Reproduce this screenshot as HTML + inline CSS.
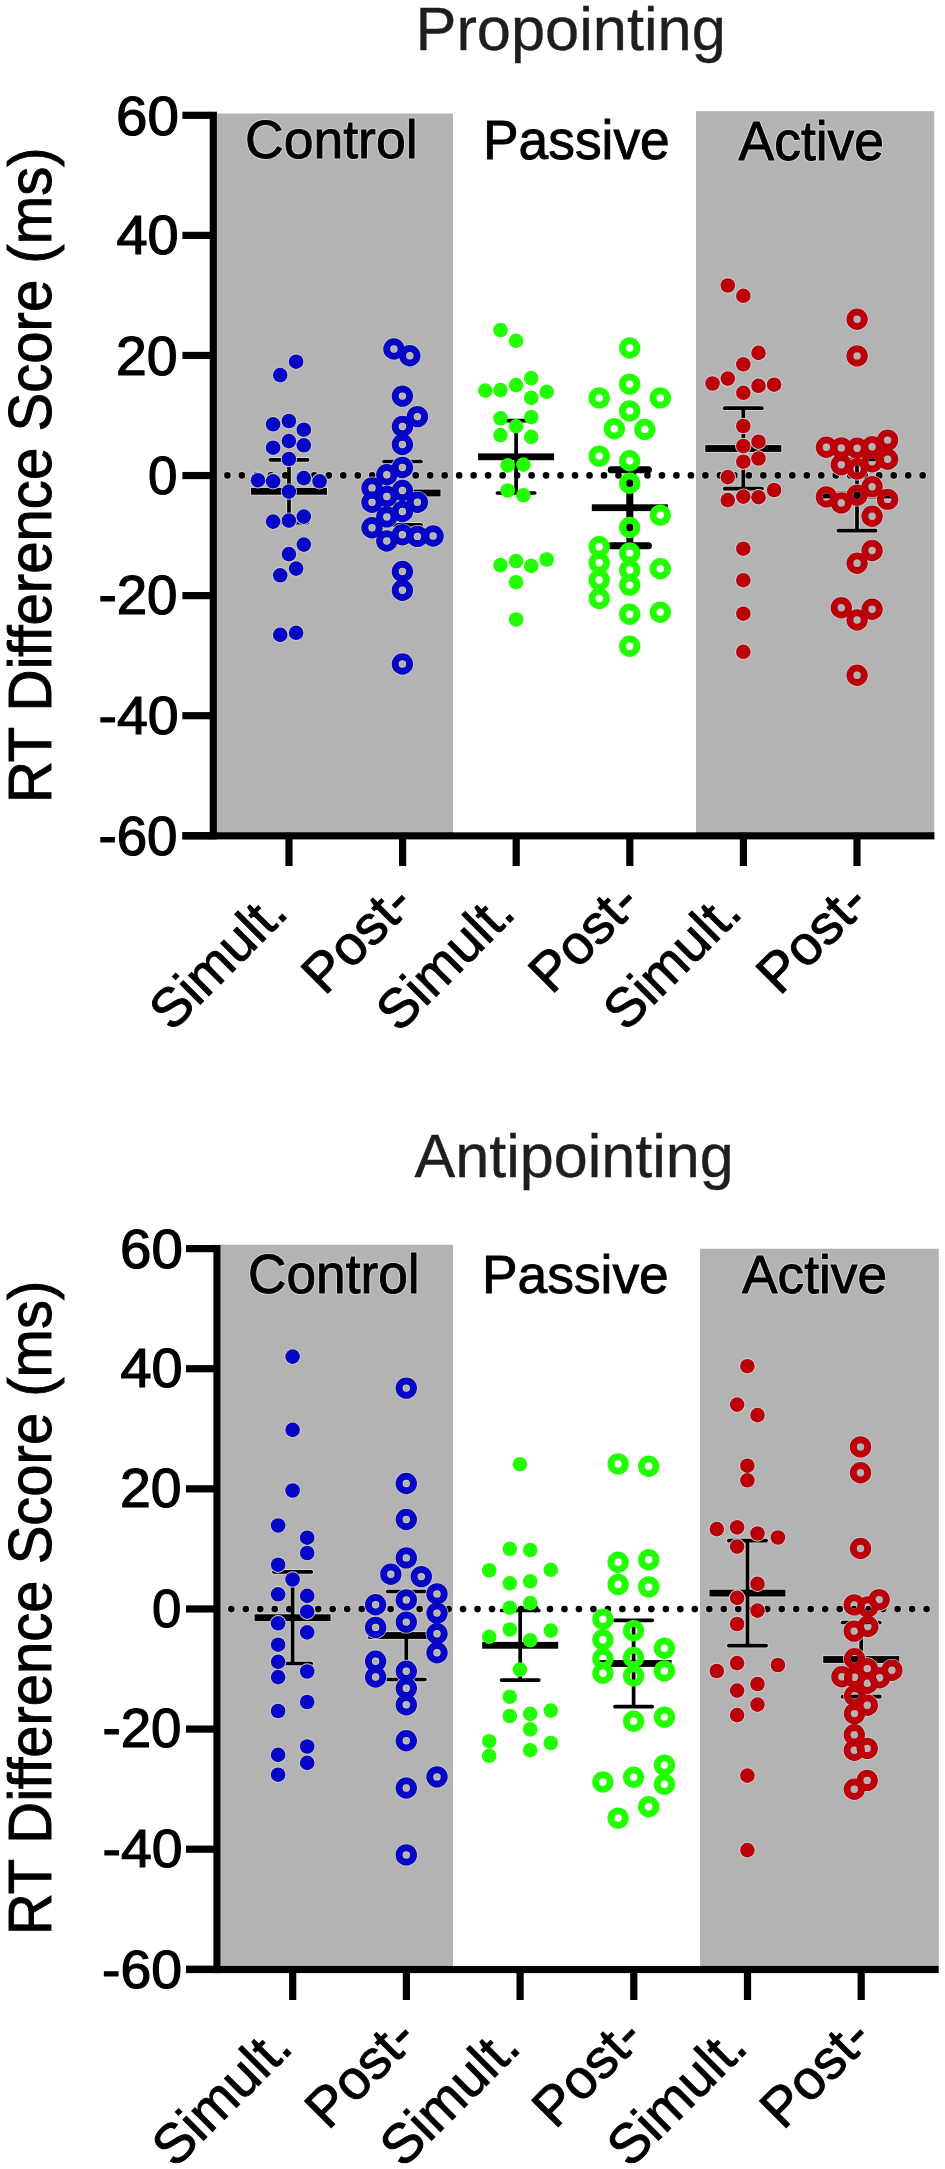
<!DOCTYPE html><html><head><meta charset="utf-8"><style>html,body{margin:0;padding:0;background:#fff;}svg{display:block}</style></head><body>
<svg width="945" height="2169" viewBox="0 0 945 2169">
<rect x="217" y="113.5" width="236" height="718.7" fill="#b3b3b3"/>
<rect x="696" y="111.2" width="238.29999999999995" height="721.0" fill="#b3b3b3"/>
<rect x="209.7" y="111.7" width="7.200000000000017" height="727.7" fill="#000"/>
<rect x="182.4" y="832.2" width="752.0" height="7.2" fill="#000"/>
<rect x="182.4" y="111.70" width="28.299999999999983" height="7.2" fill="#000"/>
<rect x="182.4" y="231.78" width="28.299999999999983" height="7.2" fill="#000"/>
<rect x="182.4" y="351.86" width="28.299999999999983" height="7.2" fill="#000"/>
<rect x="182.4" y="471.94" width="28.299999999999983" height="7.2" fill="#000"/>
<rect x="182.4" y="592.02" width="28.299999999999983" height="7.2" fill="#000"/>
<rect x="182.4" y="712.10" width="28.299999999999983" height="7.2" fill="#000"/>
<rect x="182.4" y="832.18" width="28.299999999999983" height="7.2" fill="#000"/>
<rect x="285.40" y="837.2" width="7.2" height="28.799999999999955" fill="#000"/>
<rect x="399.00" y="837.2" width="7.2" height="28.799999999999955" fill="#000"/>
<rect x="512.60" y="837.2" width="7.2" height="28.799999999999955" fill="#000"/>
<rect x="626.20" y="837.2" width="7.2" height="28.799999999999955" fill="#000"/>
<rect x="739.80" y="837.2" width="7.2" height="28.799999999999955" fill="#000"/>
<rect x="853.40" y="837.2" width="7.2" height="28.799999999999955" fill="#000"/>
<circle cx="227.40" cy="475.4" r="4.2" fill="#d4d4d4"/>
<circle cx="241.88" cy="475.4" r="4.2" fill="#d4d4d4"/>
<circle cx="256.37" cy="475.4" r="4.2" fill="#d4d4d4"/>
<circle cx="270.86" cy="475.4" r="4.2" fill="#d4d4d4"/>
<circle cx="285.34" cy="475.4" r="4.2" fill="#d4d4d4"/>
<circle cx="299.82" cy="475.4" r="4.2" fill="#d4d4d4"/>
<circle cx="314.31" cy="475.4" r="4.2" fill="#d4d4d4"/>
<circle cx="328.80" cy="475.4" r="4.2" fill="#d4d4d4"/>
<circle cx="343.28" cy="475.4" r="4.2" fill="#d4d4d4"/>
<circle cx="357.76" cy="475.4" r="4.2" fill="#d4d4d4"/>
<circle cx="372.25" cy="475.4" r="4.2" fill="#d4d4d4"/>
<circle cx="386.74" cy="475.4" r="4.2" fill="#d4d4d4"/>
<circle cx="401.22" cy="475.4" r="4.2" fill="#d4d4d4"/>
<circle cx="415.71" cy="475.4" r="4.2" fill="#d4d4d4"/>
<circle cx="430.19" cy="475.4" r="4.2" fill="#d4d4d4"/>
<circle cx="444.67" cy="475.4" r="4.2" fill="#d4d4d4"/>
<circle cx="459.16" cy="475.4" r="4.2" fill="#d4d4d4"/>
<circle cx="473.64" cy="475.4" r="4.2" fill="#d4d4d4"/>
<circle cx="488.13" cy="475.4" r="4.2" fill="#d4d4d4"/>
<circle cx="502.62" cy="475.4" r="4.2" fill="#d4d4d4"/>
<circle cx="517.10" cy="475.4" r="4.2" fill="#d4d4d4"/>
<circle cx="531.59" cy="475.4" r="4.2" fill="#d4d4d4"/>
<circle cx="546.07" cy="475.4" r="4.2" fill="#d4d4d4"/>
<circle cx="560.55" cy="475.4" r="4.2" fill="#d4d4d4"/>
<circle cx="575.04" cy="475.4" r="4.2" fill="#d4d4d4"/>
<circle cx="589.52" cy="475.4" r="4.2" fill="#d4d4d4"/>
<circle cx="604.01" cy="475.4" r="4.2" fill="#d4d4d4"/>
<circle cx="618.50" cy="475.4" r="4.2" fill="#d4d4d4"/>
<circle cx="632.98" cy="475.4" r="4.2" fill="#d4d4d4"/>
<circle cx="647.47" cy="475.4" r="4.2" fill="#d4d4d4"/>
<circle cx="661.95" cy="475.4" r="4.2" fill="#d4d4d4"/>
<circle cx="676.43" cy="475.4" r="4.2" fill="#d4d4d4"/>
<circle cx="690.92" cy="475.4" r="4.2" fill="#d4d4d4"/>
<circle cx="705.40" cy="475.4" r="4.2" fill="#d4d4d4"/>
<circle cx="719.89" cy="475.4" r="4.2" fill="#d4d4d4"/>
<circle cx="734.38" cy="475.4" r="4.2" fill="#d4d4d4"/>
<circle cx="748.86" cy="475.4" r="4.2" fill="#d4d4d4"/>
<circle cx="763.34" cy="475.4" r="4.2" fill="#d4d4d4"/>
<circle cx="777.83" cy="475.4" r="4.2" fill="#d4d4d4"/>
<circle cx="792.31" cy="475.4" r="4.2" fill="#d4d4d4"/>
<circle cx="806.80" cy="475.4" r="4.2" fill="#d4d4d4"/>
<circle cx="821.28" cy="475.4" r="4.2" fill="#d4d4d4"/>
<circle cx="835.77" cy="475.4" r="4.2" fill="#d4d4d4"/>
<circle cx="850.25" cy="475.4" r="4.2" fill="#d4d4d4"/>
<circle cx="864.74" cy="475.4" r="4.2" fill="#d4d4d4"/>
<circle cx="879.22" cy="475.4" r="4.2" fill="#d4d4d4"/>
<circle cx="893.71" cy="475.4" r="4.2" fill="#d4d4d4"/>
<circle cx="908.19" cy="475.4" r="4.2" fill="#d4d4d4"/>
<circle cx="922.68" cy="475.4" r="4.2" fill="#d4d4d4"/>
<line x1="289" y1="459.8" x2="289" y2="522.6" stroke="#d4d4d4" stroke-width="5.5"/>
<line x1="270.4" y1="459.8" x2="307.6" y2="459.8" stroke="#d4d4d4" stroke-width="5.5" stroke-linecap="round"/>
<line x1="270.4" y1="522.6" x2="307.6" y2="522.6" stroke="#d4d4d4" stroke-width="5.5" stroke-linecap="round"/>
<rect x="250.1" y="487.00000000000006" width="77.8" height="8.6" fill="#d4d4d4"/>
<line x1="402.5" y1="461.5" x2="402.5" y2="524.8" stroke="#d4d4d4" stroke-width="5.5"/>
<line x1="383.9" y1="461.5" x2="421.1" y2="461.5" stroke="#d4d4d4" stroke-width="5.5" stroke-linecap="round"/>
<line x1="383.9" y1="524.8" x2="421.1" y2="524.8" stroke="#d4d4d4" stroke-width="5.5" stroke-linecap="round"/>
<rect x="363.6" y="488.70000000000005" width="77.8" height="8.6" fill="#d4d4d4"/>
<line x1="516.1" y1="420.6" x2="516.1" y2="493" stroke="#d4d4d4" stroke-width="5.5"/>
<line x1="497.5" y1="420.6" x2="534.7" y2="420.6" stroke="#d4d4d4" stroke-width="5.5" stroke-linecap="round"/>
<line x1="497.5" y1="493" x2="534.7" y2="493" stroke="#d4d4d4" stroke-width="5.5" stroke-linecap="round"/>
<rect x="477.20000000000005" y="452.50000000000006" width="77.8" height="8.6" fill="#d4d4d4"/>
<line x1="629.8" y1="469.8" x2="629.8" y2="545.7" stroke="#d4d4d4" stroke-width="8.8"/>
<line x1="611.1999999999999" y1="469.8" x2="648.4" y2="469.8" stroke="#d4d4d4" stroke-width="8.8" stroke-linecap="round"/>
<line x1="611.1999999999999" y1="545.7" x2="648.4" y2="545.7" stroke="#d4d4d4" stroke-width="8.8" stroke-linecap="round"/>
<rect x="590.9" y="503.40000000000003" width="77.8" height="8.6" fill="#d4d4d4"/>
<line x1="743.3" y1="408.2" x2="743.3" y2="488.7" stroke="#d4d4d4" stroke-width="5.5"/>
<line x1="724.6999999999999" y1="408.2" x2="761.9" y2="408.2" stroke="#d4d4d4" stroke-width="5.5" stroke-linecap="round"/>
<line x1="724.6999999999999" y1="488.7" x2="761.9" y2="488.7" stroke="#d4d4d4" stroke-width="5.5" stroke-linecap="round"/>
<rect x="704.4" y="444.20000000000005" width="77.8" height="8.6" fill="#d4d4d4"/>
<line x1="857" y1="459.3" x2="857" y2="530.7" stroke="#d4d4d4" stroke-width="5.5"/>
<line x1="838.4" y1="459.3" x2="875.6" y2="459.3" stroke="#d4d4d4" stroke-width="5.5" stroke-linecap="round"/>
<line x1="838.4" y1="530.7" x2="875.6" y2="530.7" stroke="#d4d4d4" stroke-width="5.5" stroke-linecap="round"/>
<rect x="818.1" y="490.70000000000005" width="77.8" height="8.6" fill="#d4d4d4"/>
<rect x="453" y="113.5" width="243" height="718.7" fill="#fff"/>
<circle cx="227.40" cy="475.4" r="3.3" fill="#000"/>
<circle cx="241.88" cy="475.4" r="3.3" fill="#000"/>
<circle cx="256.37" cy="475.4" r="3.3" fill="#000"/>
<circle cx="270.86" cy="475.4" r="3.3" fill="#000"/>
<circle cx="285.34" cy="475.4" r="3.3" fill="#000"/>
<circle cx="299.82" cy="475.4" r="3.3" fill="#000"/>
<circle cx="314.31" cy="475.4" r="3.3" fill="#000"/>
<circle cx="328.80" cy="475.4" r="3.3" fill="#000"/>
<circle cx="343.28" cy="475.4" r="3.3" fill="#000"/>
<circle cx="357.76" cy="475.4" r="3.3" fill="#000"/>
<circle cx="372.25" cy="475.4" r="3.3" fill="#000"/>
<circle cx="386.74" cy="475.4" r="3.3" fill="#000"/>
<circle cx="401.22" cy="475.4" r="3.3" fill="#000"/>
<circle cx="415.71" cy="475.4" r="3.3" fill="#000"/>
<circle cx="430.19" cy="475.4" r="3.3" fill="#000"/>
<circle cx="444.67" cy="475.4" r="3.3" fill="#000"/>
<circle cx="459.16" cy="475.4" r="3.3" fill="#000"/>
<circle cx="473.64" cy="475.4" r="3.3" fill="#000"/>
<circle cx="488.13" cy="475.4" r="3.3" fill="#000"/>
<circle cx="502.62" cy="475.4" r="3.3" fill="#000"/>
<circle cx="517.10" cy="475.4" r="3.3" fill="#000"/>
<circle cx="531.59" cy="475.4" r="3.3" fill="#000"/>
<circle cx="546.07" cy="475.4" r="3.3" fill="#000"/>
<circle cx="560.55" cy="475.4" r="3.3" fill="#000"/>
<circle cx="575.04" cy="475.4" r="3.3" fill="#000"/>
<circle cx="589.52" cy="475.4" r="3.3" fill="#000"/>
<circle cx="604.01" cy="475.4" r="3.3" fill="#000"/>
<circle cx="618.50" cy="475.4" r="3.3" fill="#000"/>
<circle cx="632.98" cy="475.4" r="3.3" fill="#000"/>
<circle cx="647.47" cy="475.4" r="3.3" fill="#000"/>
<circle cx="661.95" cy="475.4" r="3.3" fill="#000"/>
<circle cx="676.43" cy="475.4" r="3.3" fill="#000"/>
<circle cx="690.92" cy="475.4" r="3.3" fill="#000"/>
<circle cx="705.40" cy="475.4" r="3.3" fill="#000"/>
<circle cx="719.89" cy="475.4" r="3.3" fill="#000"/>
<circle cx="734.38" cy="475.4" r="3.3" fill="#000"/>
<circle cx="748.86" cy="475.4" r="3.3" fill="#000"/>
<circle cx="763.34" cy="475.4" r="3.3" fill="#000"/>
<circle cx="777.83" cy="475.4" r="3.3" fill="#000"/>
<circle cx="792.31" cy="475.4" r="3.3" fill="#000"/>
<circle cx="806.80" cy="475.4" r="3.3" fill="#000"/>
<circle cx="821.28" cy="475.4" r="3.3" fill="#000"/>
<circle cx="835.77" cy="475.4" r="3.3" fill="#000"/>
<circle cx="850.25" cy="475.4" r="3.3" fill="#000"/>
<circle cx="864.74" cy="475.4" r="3.3" fill="#000"/>
<circle cx="879.22" cy="475.4" r="3.3" fill="#000"/>
<circle cx="893.71" cy="475.4" r="3.3" fill="#000"/>
<circle cx="908.19" cy="475.4" r="3.3" fill="#000"/>
<circle cx="922.68" cy="475.4" r="3.3" fill="#000"/>
<line x1="289" y1="459.8" x2="289" y2="522.6" stroke="#000" stroke-width="3.7"/>
<line x1="270.4" y1="459.8" x2="307.6" y2="459.8" stroke="#000" stroke-width="3.7" stroke-linecap="round"/>
<line x1="270.4" y1="522.6" x2="307.6" y2="522.6" stroke="#000" stroke-width="3.7" stroke-linecap="round"/>
<rect x="251.0" y="487.90000000000003" width="76" height="6.8" fill="#000"/>
<line x1="402.5" y1="461.5" x2="402.5" y2="524.8" stroke="#000" stroke-width="3.7"/>
<line x1="383.9" y1="461.5" x2="421.1" y2="461.5" stroke="#000" stroke-width="3.7" stroke-linecap="round"/>
<line x1="383.9" y1="524.8" x2="421.1" y2="524.8" stroke="#000" stroke-width="3.7" stroke-linecap="round"/>
<rect x="364.5" y="489.6" width="76" height="6.8" fill="#000"/>
<line x1="516.1" y1="420.6" x2="516.1" y2="493" stroke="#000" stroke-width="3.7"/>
<line x1="497.5" y1="420.6" x2="534.7" y2="420.6" stroke="#000" stroke-width="3.7" stroke-linecap="round"/>
<line x1="497.5" y1="493" x2="534.7" y2="493" stroke="#000" stroke-width="3.7" stroke-linecap="round"/>
<rect x="478.1" y="453.40000000000003" width="76" height="6.8" fill="#000"/>
<line x1="629.8" y1="469.8" x2="629.8" y2="545.7" stroke="#000" stroke-width="7.0"/>
<line x1="611.1999999999999" y1="469.8" x2="648.4" y2="469.8" stroke="#000" stroke-width="7.0" stroke-linecap="round"/>
<line x1="611.1999999999999" y1="545.7" x2="648.4" y2="545.7" stroke="#000" stroke-width="7.0" stroke-linecap="round"/>
<rect x="591.8" y="504.3" width="76" height="6.8" fill="#000"/>
<line x1="743.3" y1="408.2" x2="743.3" y2="488.7" stroke="#000" stroke-width="3.7"/>
<line x1="724.6999999999999" y1="408.2" x2="761.9" y2="408.2" stroke="#000" stroke-width="3.7" stroke-linecap="round"/>
<line x1="724.6999999999999" y1="488.7" x2="761.9" y2="488.7" stroke="#000" stroke-width="3.7" stroke-linecap="round"/>
<rect x="705.3" y="445.1" width="76" height="6.8" fill="#000"/>
<line x1="857" y1="459.3" x2="857" y2="530.7" stroke="#000" stroke-width="3.7"/>
<line x1="838.4" y1="459.3" x2="875.6" y2="459.3" stroke="#000" stroke-width="3.7" stroke-linecap="round"/>
<line x1="838.4" y1="530.7" x2="875.6" y2="530.7" stroke="#000" stroke-width="3.7" stroke-linecap="round"/>
<rect x="819.0" y="491.6" width="76" height="6.8" fill="#000"/>
<circle cx="296.1" cy="361.7" r="8.2" fill="#d2d0bc"/>
<circle cx="280.2" cy="375.1" r="8.2" fill="#d2d0bc"/>
<circle cx="273.1" cy="424.3" r="8.2" fill="#d2d0bc"/>
<circle cx="288.9" cy="421" r="8.2" fill="#d2d0bc"/>
<circle cx="303.8" cy="429.7" r="8.2" fill="#d2d0bc"/>
<circle cx="288.9" cy="441.1" r="8.2" fill="#d2d0bc"/>
<circle cx="303.8" cy="445.3" r="8.2" fill="#d2d0bc"/>
<circle cx="273.1" cy="447.7" r="8.2" fill="#d2d0bc"/>
<circle cx="288.9" cy="459" r="8.2" fill="#d2d0bc"/>
<circle cx="258" cy="480.2" r="8.2" fill="#d2d0bc"/>
<circle cx="273.1" cy="481.3" r="8.2" fill="#d2d0bc"/>
<circle cx="303.8" cy="478.1" r="8.2" fill="#d2d0bc"/>
<circle cx="319.6" cy="481.3" r="8.2" fill="#d2d0bc"/>
<circle cx="288.9" cy="491.6" r="8.2" fill="#d2d0bc"/>
<circle cx="273.1" cy="521.6" r="8.2" fill="#d2d0bc"/>
<circle cx="288.9" cy="520.6" r="8.2" fill="#d2d0bc"/>
<circle cx="303.8" cy="516.6" r="8.2" fill="#d2d0bc"/>
<circle cx="303.8" cy="544.6" r="8.2" fill="#d2d0bc"/>
<circle cx="288.9" cy="554.1" r="8.2" fill="#d2d0bc"/>
<circle cx="296.1" cy="568.6" r="8.2" fill="#d2d0bc"/>
<circle cx="280.2" cy="575.3" r="8.2" fill="#d2d0bc"/>
<circle cx="280.2" cy="634.9" r="8.2" fill="#d2d0bc"/>
<circle cx="296.1" cy="632.8" r="8.2" fill="#d2d0bc"/>
<circle cx="393.9" cy="349" r="11.4" fill="#d2d0bc"/>
<circle cx="409.8" cy="355.7" r="11.4" fill="#d2d0bc"/>
<circle cx="402.4" cy="396.1" r="11.4" fill="#d2d0bc"/>
<circle cx="417.4" cy="416.6" r="11.4" fill="#d2d0bc"/>
<circle cx="402.4" cy="426.5" r="11.4" fill="#d2d0bc"/>
<circle cx="402.4" cy="444.5" r="11.4" fill="#d2d0bc"/>
<circle cx="402.4" cy="467.5" r="11.4" fill="#d2d0bc"/>
<circle cx="386.8" cy="474.8" r="11.4" fill="#d2d0bc"/>
<circle cx="372" cy="488" r="11.4" fill="#d2d0bc"/>
<circle cx="402.4" cy="490.5" r="11.4" fill="#d2d0bc"/>
<circle cx="386.8" cy="496.5" r="11.4" fill="#d2d0bc"/>
<circle cx="372" cy="502.3" r="11.4" fill="#d2d0bc"/>
<circle cx="417.4" cy="502.3" r="11.4" fill="#d2d0bc"/>
<circle cx="402.4" cy="511.5" r="11.4" fill="#d2d0bc"/>
<circle cx="386.8" cy="516.9" r="11.4" fill="#d2d0bc"/>
<circle cx="372" cy="527.7" r="11.4" fill="#d2d0bc"/>
<circle cx="402.4" cy="534.8" r="11.4" fill="#d2d0bc"/>
<circle cx="417.4" cy="536.4" r="11.4" fill="#d2d0bc"/>
<circle cx="433.1" cy="536" r="11.4" fill="#d2d0bc"/>
<circle cx="386.8" cy="541" r="11.4" fill="#d2d0bc"/>
<circle cx="402.4" cy="571.5" r="11.4" fill="#d2d0bc"/>
<circle cx="402.4" cy="590.3" r="11.4" fill="#d2d0bc"/>
<circle cx="402.4" cy="664" r="11.4" fill="#d2d0bc"/>
<circle cx="727.8" cy="285.5" r="8.2" fill="#c6d8d6"/>
<circle cx="743.3" cy="295.8" r="8.2" fill="#c6d8d6"/>
<circle cx="758.5" cy="352.9" r="8.2" fill="#c6d8d6"/>
<circle cx="743.3" cy="364.3" r="8.2" fill="#c6d8d6"/>
<circle cx="712.5" cy="383.5" r="8.2" fill="#c6d8d6"/>
<circle cx="727.8" cy="378.6" r="8.2" fill="#c6d8d6"/>
<circle cx="743.3" cy="392.8" r="8.2" fill="#c6d8d6"/>
<circle cx="758.5" cy="385.8" r="8.2" fill="#c6d8d6"/>
<circle cx="774.1" cy="384.7" r="8.2" fill="#c6d8d6"/>
<circle cx="743.3" cy="426" r="8.2" fill="#c6d8d6"/>
<circle cx="758.5" cy="441.7" r="8.2" fill="#c6d8d6"/>
<circle cx="743.3" cy="446" r="8.2" fill="#c6d8d6"/>
<circle cx="743.3" cy="461.7" r="8.2" fill="#c6d8d6"/>
<circle cx="758.5" cy="458.5" r="8.2" fill="#c6d8d6"/>
<circle cx="727.8" cy="477.1" r="8.2" fill="#c6d8d6"/>
<circle cx="774.1" cy="490" r="8.2" fill="#c6d8d6"/>
<circle cx="727.8" cy="500.1" r="8.2" fill="#c6d8d6"/>
<circle cx="743.3" cy="496.6" r="8.2" fill="#c6d8d6"/>
<circle cx="758.5" cy="497.2" r="8.2" fill="#c6d8d6"/>
<circle cx="743.3" cy="548.7" r="8.2" fill="#c6d8d6"/>
<circle cx="743.3" cy="580.2" r="8.2" fill="#c6d8d6"/>
<circle cx="743.3" cy="613.7" r="8.2" fill="#c6d8d6"/>
<circle cx="743.3" cy="651.8" r="8.2" fill="#c6d8d6"/>
<circle cx="857.1" cy="319.3" r="7.55" fill="none" stroke="#c6d8d6" stroke-width="7.7"/>
<circle cx="857.1" cy="355.9" r="7.55" fill="none" stroke="#c6d8d6" stroke-width="7.7"/>
<circle cx="826.4" cy="447.3" r="7.55" fill="none" stroke="#c6d8d6" stroke-width="7.7"/>
<circle cx="841.3" cy="447.9" r="7.55" fill="none" stroke="#c6d8d6" stroke-width="7.7"/>
<circle cx="857.1" cy="448.3" r="7.55" fill="none" stroke="#c6d8d6" stroke-width="7.7"/>
<circle cx="872.1" cy="446.7" r="7.55" fill="none" stroke="#c6d8d6" stroke-width="7.7"/>
<circle cx="887.6" cy="440.1" r="7.55" fill="none" stroke="#c6d8d6" stroke-width="7.7"/>
<circle cx="887.6" cy="459.2" r="7.55" fill="none" stroke="#c6d8d6" stroke-width="7.7"/>
<circle cx="841.3" cy="464.8" r="7.55" fill="none" stroke="#c6d8d6" stroke-width="7.7"/>
<circle cx="872.1" cy="461.7" r="7.55" fill="none" stroke="#c6d8d6" stroke-width="7.7"/>
<circle cx="857.1" cy="469" r="7.55" fill="none" stroke="#c6d8d6" stroke-width="7.7"/>
<circle cx="872.1" cy="486.7" r="7.55" fill="none" stroke="#c6d8d6" stroke-width="7.7"/>
<circle cx="826.4" cy="496.9" r="7.55" fill="none" stroke="#c6d8d6" stroke-width="7.7"/>
<circle cx="857.1" cy="495.2" r="7.55" fill="none" stroke="#c6d8d6" stroke-width="7.7"/>
<circle cx="841.3" cy="502.9" r="7.55" fill="none" stroke="#c6d8d6" stroke-width="7.7"/>
<circle cx="887.6" cy="499.4" r="7.55" fill="none" stroke="#c6d8d6" stroke-width="7.7"/>
<circle cx="872.1" cy="516.2" r="7.55" fill="none" stroke="#c6d8d6" stroke-width="7.7"/>
<circle cx="872.1" cy="550.5" r="7.55" fill="none" stroke="#c6d8d6" stroke-width="7.7"/>
<circle cx="857.1" cy="563.2" r="7.55" fill="none" stroke="#c6d8d6" stroke-width="7.7"/>
<circle cx="841.3" cy="607.7" r="7.55" fill="none" stroke="#c6d8d6" stroke-width="7.7"/>
<circle cx="872.1" cy="609.2" r="7.55" fill="none" stroke="#c6d8d6" stroke-width="7.7"/>
<circle cx="857.1" cy="620" r="7.55" fill="none" stroke="#c6d8d6" stroke-width="7.7"/>
<circle cx="857.1" cy="675.2" r="7.55" fill="none" stroke="#c6d8d6" stroke-width="7.7"/>
<circle cx="296.1" cy="361.7" r="7.3" fill="#0606c6"/>
<circle cx="280.2" cy="375.1" r="7.3" fill="#0606c6"/>
<circle cx="273.1" cy="424.3" r="7.3" fill="#0606c6"/>
<circle cx="288.9" cy="421" r="7.3" fill="#0606c6"/>
<circle cx="303.8" cy="429.7" r="7.3" fill="#0606c6"/>
<circle cx="288.9" cy="441.1" r="7.3" fill="#0606c6"/>
<circle cx="303.8" cy="445.3" r="7.3" fill="#0606c6"/>
<circle cx="273.1" cy="447.7" r="7.3" fill="#0606c6"/>
<circle cx="288.9" cy="459" r="7.3" fill="#0606c6"/>
<circle cx="258" cy="480.2" r="7.3" fill="#0606c6"/>
<circle cx="273.1" cy="481.3" r="7.3" fill="#0606c6"/>
<circle cx="303.8" cy="478.1" r="7.3" fill="#0606c6"/>
<circle cx="319.6" cy="481.3" r="7.3" fill="#0606c6"/>
<circle cx="288.9" cy="491.6" r="7.3" fill="#0606c6"/>
<circle cx="273.1" cy="521.6" r="7.3" fill="#0606c6"/>
<circle cx="288.9" cy="520.6" r="7.3" fill="#0606c6"/>
<circle cx="303.8" cy="516.6" r="7.3" fill="#0606c6"/>
<circle cx="303.8" cy="544.6" r="7.3" fill="#0606c6"/>
<circle cx="288.9" cy="554.1" r="7.3" fill="#0606c6"/>
<circle cx="296.1" cy="568.6" r="7.3" fill="#0606c6"/>
<circle cx="280.2" cy="575.3" r="7.3" fill="#0606c6"/>
<circle cx="280.2" cy="634.9" r="7.3" fill="#0606c6"/>
<circle cx="296.1" cy="632.8" r="7.3" fill="#0606c6"/>
<circle cx="393.9" cy="349" r="2.9" fill="#b3b3b3"/>
<circle cx="393.9" cy="349" r="7.2" fill="none" stroke="#0606c6" stroke-width="7.0"/>
<circle cx="409.8" cy="355.7" r="2.9" fill="#b3b3b3"/>
<circle cx="409.8" cy="355.7" r="7.2" fill="none" stroke="#0606c6" stroke-width="7.0"/>
<circle cx="402.4" cy="396.1" r="2.9" fill="#b3b3b3"/>
<circle cx="402.4" cy="396.1" r="7.2" fill="none" stroke="#0606c6" stroke-width="7.0"/>
<circle cx="417.4" cy="416.6" r="2.9" fill="#b3b3b3"/>
<circle cx="417.4" cy="416.6" r="7.2" fill="none" stroke="#0606c6" stroke-width="7.0"/>
<circle cx="402.4" cy="426.5" r="2.9" fill="#b3b3b3"/>
<circle cx="402.4" cy="426.5" r="7.2" fill="none" stroke="#0606c6" stroke-width="7.0"/>
<circle cx="402.4" cy="444.5" r="2.9" fill="#b3b3b3"/>
<circle cx="402.4" cy="444.5" r="7.2" fill="none" stroke="#0606c6" stroke-width="7.0"/>
<circle cx="402.4" cy="467.5" r="2.9" fill="#b3b3b3"/>
<circle cx="402.4" cy="467.5" r="7.2" fill="none" stroke="#0606c6" stroke-width="7.0"/>
<circle cx="386.8" cy="474.8" r="2.9" fill="#b3b3b3"/>
<circle cx="386.8" cy="474.8" r="7.2" fill="none" stroke="#0606c6" stroke-width="7.0"/>
<circle cx="372" cy="488" r="2.9" fill="#b3b3b3"/>
<circle cx="372" cy="488" r="7.2" fill="none" stroke="#0606c6" stroke-width="7.0"/>
<circle cx="402.4" cy="490.5" r="2.9" fill="#b3b3b3"/>
<circle cx="402.4" cy="490.5" r="7.2" fill="none" stroke="#0606c6" stroke-width="7.0"/>
<circle cx="386.8" cy="496.5" r="2.9" fill="#b3b3b3"/>
<circle cx="386.8" cy="496.5" r="7.2" fill="none" stroke="#0606c6" stroke-width="7.0"/>
<circle cx="372" cy="502.3" r="2.9" fill="#b3b3b3"/>
<circle cx="372" cy="502.3" r="7.2" fill="none" stroke="#0606c6" stroke-width="7.0"/>
<circle cx="417.4" cy="502.3" r="2.9" fill="#b3b3b3"/>
<circle cx="417.4" cy="502.3" r="7.2" fill="none" stroke="#0606c6" stroke-width="7.0"/>
<circle cx="402.4" cy="511.5" r="2.9" fill="#b3b3b3"/>
<circle cx="402.4" cy="511.5" r="7.2" fill="none" stroke="#0606c6" stroke-width="7.0"/>
<circle cx="386.8" cy="516.9" r="2.9" fill="#b3b3b3"/>
<circle cx="386.8" cy="516.9" r="7.2" fill="none" stroke="#0606c6" stroke-width="7.0"/>
<circle cx="372" cy="527.7" r="2.9" fill="#b3b3b3"/>
<circle cx="372" cy="527.7" r="7.2" fill="none" stroke="#0606c6" stroke-width="7.0"/>
<circle cx="402.4" cy="534.8" r="2.9" fill="#b3b3b3"/>
<circle cx="402.4" cy="534.8" r="7.2" fill="none" stroke="#0606c6" stroke-width="7.0"/>
<circle cx="417.4" cy="536.4" r="2.9" fill="#b3b3b3"/>
<circle cx="417.4" cy="536.4" r="7.2" fill="none" stroke="#0606c6" stroke-width="7.0"/>
<circle cx="433.1" cy="536" r="2.9" fill="#b3b3b3"/>
<circle cx="433.1" cy="536" r="7.2" fill="none" stroke="#0606c6" stroke-width="7.0"/>
<circle cx="386.8" cy="541" r="2.9" fill="#b3b3b3"/>
<circle cx="386.8" cy="541" r="7.2" fill="none" stroke="#0606c6" stroke-width="7.0"/>
<circle cx="402.4" cy="571.5" r="2.9" fill="#b3b3b3"/>
<circle cx="402.4" cy="571.5" r="7.2" fill="none" stroke="#0606c6" stroke-width="7.0"/>
<circle cx="402.4" cy="590.3" r="2.9" fill="#b3b3b3"/>
<circle cx="402.4" cy="590.3" r="7.2" fill="none" stroke="#0606c6" stroke-width="7.0"/>
<circle cx="402.4" cy="664" r="2.9" fill="#b3b3b3"/>
<circle cx="402.4" cy="664" r="7.2" fill="none" stroke="#0606c6" stroke-width="7.0"/>
<circle cx="500.5" cy="330" r="7.3" fill="#22ff00"/>
<circle cx="516.1" cy="340.8" r="7.3" fill="#22ff00"/>
<circle cx="485.4" cy="390.6" r="7.3" fill="#22ff00"/>
<circle cx="500.5" cy="390.1" r="7.3" fill="#22ff00"/>
<circle cx="516.1" cy="385.1" r="7.3" fill="#22ff00"/>
<circle cx="531.2" cy="378.1" r="7.3" fill="#22ff00"/>
<circle cx="546.7" cy="391.8" r="7.3" fill="#22ff00"/>
<circle cx="531.2" cy="397.9" r="7.3" fill="#22ff00"/>
<circle cx="500.5" cy="418.3" r="7.3" fill="#22ff00"/>
<circle cx="531.2" cy="417.1" r="7.3" fill="#22ff00"/>
<circle cx="516.1" cy="426.2" r="7.3" fill="#22ff00"/>
<circle cx="500.5" cy="435.1" r="7.3" fill="#22ff00"/>
<circle cx="531.2" cy="436.9" r="7.3" fill="#22ff00"/>
<circle cx="507.7" cy="465.4" r="7.3" fill="#22ff00"/>
<circle cx="523.4" cy="464.6" r="7.3" fill="#22ff00"/>
<circle cx="507.7" cy="490.5" r="7.3" fill="#22ff00"/>
<circle cx="523.4" cy="495.3" r="7.3" fill="#22ff00"/>
<circle cx="500.5" cy="565.1" r="7.3" fill="#22ff00"/>
<circle cx="516.1" cy="561" r="7.3" fill="#22ff00"/>
<circle cx="531.2" cy="565.9" r="7.3" fill="#22ff00"/>
<circle cx="546.7" cy="559.5" r="7.3" fill="#22ff00"/>
<circle cx="516.1" cy="582.2" r="7.3" fill="#22ff00"/>
<circle cx="516.1" cy="619.5" r="7.3" fill="#22ff00"/>
<circle cx="629.7" cy="348" r="7.2" fill="none" stroke="#22ff00" stroke-width="7.0"/>
<circle cx="629.7" cy="384.1" r="7.2" fill="none" stroke="#22ff00" stroke-width="7.0"/>
<circle cx="599.2" cy="397.9" r="7.2" fill="none" stroke="#22ff00" stroke-width="7.0"/>
<circle cx="660.3" cy="397.9" r="7.2" fill="none" stroke="#22ff00" stroke-width="7.0"/>
<circle cx="629.7" cy="410.9" r="7.2" fill="none" stroke="#22ff00" stroke-width="7.0"/>
<circle cx="614.3" cy="428.7" r="7.2" fill="none" stroke="#22ff00" stroke-width="7.0"/>
<circle cx="644.8" cy="429.5" r="7.2" fill="none" stroke="#22ff00" stroke-width="7.0"/>
<circle cx="599.2" cy="456.1" r="7.2" fill="none" stroke="#22ff00" stroke-width="7.0"/>
<circle cx="629.7" cy="460.7" r="7.2" fill="none" stroke="#22ff00" stroke-width="7.0"/>
<circle cx="629.7" cy="483.2" r="7.2" fill="none" stroke="#22ff00" stroke-width="7.0"/>
<circle cx="660.3" cy="515.1" r="7.2" fill="none" stroke="#22ff00" stroke-width="7.0"/>
<circle cx="629.7" cy="527.5" r="7.2" fill="none" stroke="#22ff00" stroke-width="7.0"/>
<circle cx="599.2" cy="546.7" r="7.2" fill="none" stroke="#22ff00" stroke-width="7.0"/>
<circle cx="629.7" cy="552.9" r="7.2" fill="none" stroke="#22ff00" stroke-width="7.0"/>
<circle cx="599.2" cy="562.7" r="7.2" fill="none" stroke="#22ff00" stroke-width="7.0"/>
<circle cx="629.7" cy="570" r="7.2" fill="none" stroke="#22ff00" stroke-width="7.0"/>
<circle cx="660.3" cy="568.8" r="7.2" fill="none" stroke="#22ff00" stroke-width="7.0"/>
<circle cx="599.2" cy="579.9" r="7.2" fill="none" stroke="#22ff00" stroke-width="7.0"/>
<circle cx="629.7" cy="585.1" r="7.2" fill="none" stroke="#22ff00" stroke-width="7.0"/>
<circle cx="599.2" cy="598.5" r="7.2" fill="none" stroke="#22ff00" stroke-width="7.0"/>
<circle cx="629.7" cy="614.2" r="7.2" fill="none" stroke="#22ff00" stroke-width="7.0"/>
<circle cx="660.3" cy="612.3" r="7.2" fill="none" stroke="#22ff00" stroke-width="7.0"/>
<circle cx="629.7" cy="646.3" r="7.2" fill="none" stroke="#22ff00" stroke-width="7.0"/>
<circle cx="727.8" cy="285.5" r="7.3" fill="#bb000a"/>
<circle cx="743.3" cy="295.8" r="7.3" fill="#bb000a"/>
<circle cx="758.5" cy="352.9" r="7.3" fill="#bb000a"/>
<circle cx="743.3" cy="364.3" r="7.3" fill="#bb000a"/>
<circle cx="712.5" cy="383.5" r="7.3" fill="#bb000a"/>
<circle cx="727.8" cy="378.6" r="7.3" fill="#bb000a"/>
<circle cx="743.3" cy="392.8" r="7.3" fill="#bb000a"/>
<circle cx="758.5" cy="385.8" r="7.3" fill="#bb000a"/>
<circle cx="774.1" cy="384.7" r="7.3" fill="#bb000a"/>
<circle cx="743.3" cy="426" r="7.3" fill="#bb000a"/>
<circle cx="758.5" cy="441.7" r="7.3" fill="#bb000a"/>
<circle cx="743.3" cy="446" r="7.3" fill="#bb000a"/>
<circle cx="743.3" cy="461.7" r="7.3" fill="#bb000a"/>
<circle cx="758.5" cy="458.5" r="7.3" fill="#bb000a"/>
<circle cx="727.8" cy="477.1" r="7.3" fill="#bb000a"/>
<circle cx="774.1" cy="490" r="7.3" fill="#bb000a"/>
<circle cx="727.8" cy="500.1" r="7.3" fill="#bb000a"/>
<circle cx="743.3" cy="496.6" r="7.3" fill="#bb000a"/>
<circle cx="758.5" cy="497.2" r="7.3" fill="#bb000a"/>
<circle cx="743.3" cy="548.7" r="7.3" fill="#bb000a"/>
<circle cx="743.3" cy="580.2" r="7.3" fill="#bb000a"/>
<circle cx="743.3" cy="613.7" r="7.3" fill="#bb000a"/>
<circle cx="743.3" cy="651.8" r="7.3" fill="#bb000a"/>
<circle cx="857.1" cy="319.3" r="7.2" fill="none" stroke="#bb000a" stroke-width="7.0"/>
<circle cx="857.1" cy="355.9" r="7.2" fill="none" stroke="#bb000a" stroke-width="7.0"/>
<circle cx="826.4" cy="447.3" r="7.2" fill="none" stroke="#bb000a" stroke-width="7.0"/>
<circle cx="841.3" cy="447.9" r="7.2" fill="none" stroke="#bb000a" stroke-width="7.0"/>
<circle cx="857.1" cy="448.3" r="7.2" fill="none" stroke="#bb000a" stroke-width="7.0"/>
<circle cx="872.1" cy="446.7" r="7.2" fill="none" stroke="#bb000a" stroke-width="7.0"/>
<circle cx="887.6" cy="440.1" r="7.2" fill="none" stroke="#bb000a" stroke-width="7.0"/>
<circle cx="887.6" cy="459.2" r="7.2" fill="none" stroke="#bb000a" stroke-width="7.0"/>
<circle cx="841.3" cy="464.8" r="7.2" fill="none" stroke="#bb000a" stroke-width="7.0"/>
<circle cx="872.1" cy="461.7" r="7.2" fill="none" stroke="#bb000a" stroke-width="7.0"/>
<circle cx="857.1" cy="469" r="7.2" fill="none" stroke="#bb000a" stroke-width="7.0"/>
<circle cx="872.1" cy="486.7" r="7.2" fill="none" stroke="#bb000a" stroke-width="7.0"/>
<circle cx="826.4" cy="496.9" r="7.2" fill="none" stroke="#bb000a" stroke-width="7.0"/>
<circle cx="857.1" cy="495.2" r="7.2" fill="none" stroke="#bb000a" stroke-width="7.0"/>
<circle cx="841.3" cy="502.9" r="7.2" fill="none" stroke="#bb000a" stroke-width="7.0"/>
<circle cx="887.6" cy="499.4" r="7.2" fill="none" stroke="#bb000a" stroke-width="7.0"/>
<circle cx="872.1" cy="516.2" r="7.2" fill="none" stroke="#bb000a" stroke-width="7.0"/>
<circle cx="872.1" cy="550.5" r="7.2" fill="none" stroke="#bb000a" stroke-width="7.0"/>
<circle cx="857.1" cy="563.2" r="7.2" fill="none" stroke="#bb000a" stroke-width="7.0"/>
<circle cx="841.3" cy="607.7" r="7.2" fill="none" stroke="#bb000a" stroke-width="7.0"/>
<circle cx="872.1" cy="609.2" r="7.2" fill="none" stroke="#bb000a" stroke-width="7.0"/>
<circle cx="857.1" cy="620" r="7.2" fill="none" stroke="#bb000a" stroke-width="7.0"/>
<circle cx="857.1" cy="675.2" r="7.2" fill="none" stroke="#bb000a" stroke-width="7.0"/>
<rect x="221" y="1244.7" width="232" height="721.2" fill="#b3b3b3"/>
<rect x="700" y="1248.7" width="238.79999999999995" height="717.2" fill="#b3b3b3"/>
<rect x="213.4" y="1244.9" width="7.199999999999989" height="728.2" fill="#000"/>
<rect x="186" y="1965.9" width="752.7" height="7.2" fill="#000"/>
<rect x="186" y="1245.00" width="28.400000000000006" height="7.2" fill="#000"/>
<rect x="186" y="1365.12" width="28.400000000000006" height="7.2" fill="#000"/>
<rect x="186" y="1485.24" width="28.400000000000006" height="7.2" fill="#000"/>
<rect x="186" y="1605.36" width="28.400000000000006" height="7.2" fill="#000"/>
<rect x="186" y="1725.48" width="28.400000000000006" height="7.2" fill="#000"/>
<rect x="186" y="1845.60" width="28.400000000000006" height="7.2" fill="#000"/>
<rect x="186" y="1965.72" width="28.400000000000006" height="7.2" fill="#000"/>
<rect x="289.10" y="1970.9" width="7.2" height="29.09999999999991" fill="#000"/>
<rect x="402.80" y="1970.9" width="7.2" height="29.09999999999991" fill="#000"/>
<rect x="516.50" y="1970.9" width="7.2" height="29.09999999999991" fill="#000"/>
<rect x="630.20" y="1970.9" width="7.2" height="29.09999999999991" fill="#000"/>
<rect x="743.90" y="1970.9" width="7.2" height="29.09999999999991" fill="#000"/>
<rect x="857.60" y="1970.9" width="7.2" height="29.09999999999991" fill="#000"/>
<circle cx="231.30" cy="1609.1" r="4.2" fill="#d4d4d4"/>
<circle cx="245.79" cy="1609.1" r="4.2" fill="#d4d4d4"/>
<circle cx="260.27" cy="1609.1" r="4.2" fill="#d4d4d4"/>
<circle cx="274.75" cy="1609.1" r="4.2" fill="#d4d4d4"/>
<circle cx="289.24" cy="1609.1" r="4.2" fill="#d4d4d4"/>
<circle cx="303.73" cy="1609.1" r="4.2" fill="#d4d4d4"/>
<circle cx="318.21" cy="1609.1" r="4.2" fill="#d4d4d4"/>
<circle cx="332.69" cy="1609.1" r="4.2" fill="#d4d4d4"/>
<circle cx="347.18" cy="1609.1" r="4.2" fill="#d4d4d4"/>
<circle cx="361.67" cy="1609.1" r="4.2" fill="#d4d4d4"/>
<circle cx="376.15" cy="1609.1" r="4.2" fill="#d4d4d4"/>
<circle cx="390.63" cy="1609.1" r="4.2" fill="#d4d4d4"/>
<circle cx="405.12" cy="1609.1" r="4.2" fill="#d4d4d4"/>
<circle cx="419.61" cy="1609.1" r="4.2" fill="#d4d4d4"/>
<circle cx="434.09" cy="1609.1" r="4.2" fill="#d4d4d4"/>
<circle cx="448.57" cy="1609.1" r="4.2" fill="#d4d4d4"/>
<circle cx="463.06" cy="1609.1" r="4.2" fill="#d4d4d4"/>
<circle cx="477.55" cy="1609.1" r="4.2" fill="#d4d4d4"/>
<circle cx="492.03" cy="1609.1" r="4.2" fill="#d4d4d4"/>
<circle cx="506.51" cy="1609.1" r="4.2" fill="#d4d4d4"/>
<circle cx="521.00" cy="1609.1" r="4.2" fill="#d4d4d4"/>
<circle cx="535.49" cy="1609.1" r="4.2" fill="#d4d4d4"/>
<circle cx="549.97" cy="1609.1" r="4.2" fill="#d4d4d4"/>
<circle cx="564.45" cy="1609.1" r="4.2" fill="#d4d4d4"/>
<circle cx="578.94" cy="1609.1" r="4.2" fill="#d4d4d4"/>
<circle cx="593.42" cy="1609.1" r="4.2" fill="#d4d4d4"/>
<circle cx="607.91" cy="1609.1" r="4.2" fill="#d4d4d4"/>
<circle cx="622.39" cy="1609.1" r="4.2" fill="#d4d4d4"/>
<circle cx="636.88" cy="1609.1" r="4.2" fill="#d4d4d4"/>
<circle cx="651.37" cy="1609.1" r="4.2" fill="#d4d4d4"/>
<circle cx="665.85" cy="1609.1" r="4.2" fill="#d4d4d4"/>
<circle cx="680.34" cy="1609.1" r="4.2" fill="#d4d4d4"/>
<circle cx="694.82" cy="1609.1" r="4.2" fill="#d4d4d4"/>
<circle cx="709.31" cy="1609.1" r="4.2" fill="#d4d4d4"/>
<circle cx="723.79" cy="1609.1" r="4.2" fill="#d4d4d4"/>
<circle cx="738.27" cy="1609.1" r="4.2" fill="#d4d4d4"/>
<circle cx="752.76" cy="1609.1" r="4.2" fill="#d4d4d4"/>
<circle cx="767.24" cy="1609.1" r="4.2" fill="#d4d4d4"/>
<circle cx="781.73" cy="1609.1" r="4.2" fill="#d4d4d4"/>
<circle cx="796.21" cy="1609.1" r="4.2" fill="#d4d4d4"/>
<circle cx="810.70" cy="1609.1" r="4.2" fill="#d4d4d4"/>
<circle cx="825.18" cy="1609.1" r="4.2" fill="#d4d4d4"/>
<circle cx="839.67" cy="1609.1" r="4.2" fill="#d4d4d4"/>
<circle cx="854.15" cy="1609.1" r="4.2" fill="#d4d4d4"/>
<circle cx="868.64" cy="1609.1" r="4.2" fill="#d4d4d4"/>
<circle cx="883.12" cy="1609.1" r="4.2" fill="#d4d4d4"/>
<circle cx="897.61" cy="1609.1" r="4.2" fill="#d4d4d4"/>
<circle cx="912.10" cy="1609.1" r="4.2" fill="#d4d4d4"/>
<circle cx="926.58" cy="1609.1" r="4.2" fill="#d4d4d4"/>
<line x1="292.6" y1="1571.8" x2="292.6" y2="1663.5" stroke="#d4d4d4" stroke-width="5.5"/>
<line x1="274.0" y1="1571.8" x2="311.20000000000005" y2="1571.8" stroke="#d4d4d4" stroke-width="5.5" stroke-linecap="round"/>
<line x1="274.0" y1="1663.5" x2="311.20000000000005" y2="1663.5" stroke="#d4d4d4" stroke-width="5.5" stroke-linecap="round"/>
<rect x="253.70000000000002" y="1613.3999999999999" width="77.8" height="8.6" fill="#d4d4d4"/>
<line x1="406.3" y1="1591.5" x2="406.3" y2="1679.5" stroke="#d4d4d4" stroke-width="5.5"/>
<line x1="387.7" y1="1591.5" x2="424.90000000000003" y2="1591.5" stroke="#d4d4d4" stroke-width="5.5" stroke-linecap="round"/>
<line x1="387.7" y1="1679.5" x2="424.90000000000003" y2="1679.5" stroke="#d4d4d4" stroke-width="5.5" stroke-linecap="round"/>
<rect x="367.40000000000003" y="1631.1999999999998" width="77.8" height="8.6" fill="#d4d4d4"/>
<line x1="520.2" y1="1610.5" x2="520.2" y2="1680.1" stroke="#d4d4d4" stroke-width="5.5"/>
<line x1="501.6" y1="1610.5" x2="538.8000000000001" y2="1610.5" stroke="#d4d4d4" stroke-width="5.5" stroke-linecap="round"/>
<line x1="501.6" y1="1680.1" x2="538.8000000000001" y2="1680.1" stroke="#d4d4d4" stroke-width="5.5" stroke-linecap="round"/>
<rect x="481.30000000000007" y="1640.9999999999998" width="77.8" height="8.6" fill="#d4d4d4"/>
<line x1="633.6" y1="1620.3" x2="633.6" y2="1706.7" stroke="#d4d4d4" stroke-width="5.5"/>
<line x1="615.0" y1="1620.3" x2="652.2" y2="1620.3" stroke="#d4d4d4" stroke-width="5.5" stroke-linecap="round"/>
<line x1="615.0" y1="1706.7" x2="652.2" y2="1706.7" stroke="#d4d4d4" stroke-width="5.5" stroke-linecap="round"/>
<rect x="594.7" y="1659.1999999999998" width="77.8" height="8.6" fill="#d4d4d4"/>
<line x1="747.5" y1="1540.6" x2="747.5" y2="1645.6" stroke="#d4d4d4" stroke-width="5.5"/>
<line x1="728.9" y1="1540.6" x2="766.1" y2="1540.6" stroke="#d4d4d4" stroke-width="5.5" stroke-linecap="round"/>
<line x1="728.9" y1="1645.6" x2="766.1" y2="1645.6" stroke="#d4d4d4" stroke-width="5.5" stroke-linecap="round"/>
<rect x="708.6" y="1588.7999999999997" width="77.8" height="8.6" fill="#d4d4d4"/>
<line x1="861.2" y1="1622.5" x2="861.2" y2="1696.7" stroke="#d4d4d4" stroke-width="5.5"/>
<line x1="842.6" y1="1622.5" x2="879.8000000000001" y2="1622.5" stroke="#d4d4d4" stroke-width="5.5" stroke-linecap="round"/>
<line x1="842.6" y1="1696.7" x2="879.8000000000001" y2="1696.7" stroke="#d4d4d4" stroke-width="5.5" stroke-linecap="round"/>
<rect x="822.3000000000001" y="1655.1999999999998" width="77.8" height="8.6" fill="#d4d4d4"/>
<rect x="453" y="1244.7" width="247" height="721.2" fill="#fff"/>
<circle cx="231.30" cy="1609.1" r="3.3" fill="#000"/>
<circle cx="245.79" cy="1609.1" r="3.3" fill="#000"/>
<circle cx="260.27" cy="1609.1" r="3.3" fill="#000"/>
<circle cx="274.75" cy="1609.1" r="3.3" fill="#000"/>
<circle cx="289.24" cy="1609.1" r="3.3" fill="#000"/>
<circle cx="303.73" cy="1609.1" r="3.3" fill="#000"/>
<circle cx="318.21" cy="1609.1" r="3.3" fill="#000"/>
<circle cx="332.69" cy="1609.1" r="3.3" fill="#000"/>
<circle cx="347.18" cy="1609.1" r="3.3" fill="#000"/>
<circle cx="361.67" cy="1609.1" r="3.3" fill="#000"/>
<circle cx="376.15" cy="1609.1" r="3.3" fill="#000"/>
<circle cx="390.63" cy="1609.1" r="3.3" fill="#000"/>
<circle cx="405.12" cy="1609.1" r="3.3" fill="#000"/>
<circle cx="419.61" cy="1609.1" r="3.3" fill="#000"/>
<circle cx="434.09" cy="1609.1" r="3.3" fill="#000"/>
<circle cx="448.57" cy="1609.1" r="3.3" fill="#000"/>
<circle cx="463.06" cy="1609.1" r="3.3" fill="#000"/>
<circle cx="477.55" cy="1609.1" r="3.3" fill="#000"/>
<circle cx="492.03" cy="1609.1" r="3.3" fill="#000"/>
<circle cx="506.51" cy="1609.1" r="3.3" fill="#000"/>
<circle cx="521.00" cy="1609.1" r="3.3" fill="#000"/>
<circle cx="535.49" cy="1609.1" r="3.3" fill="#000"/>
<circle cx="549.97" cy="1609.1" r="3.3" fill="#000"/>
<circle cx="564.45" cy="1609.1" r="3.3" fill="#000"/>
<circle cx="578.94" cy="1609.1" r="3.3" fill="#000"/>
<circle cx="593.42" cy="1609.1" r="3.3" fill="#000"/>
<circle cx="607.91" cy="1609.1" r="3.3" fill="#000"/>
<circle cx="622.39" cy="1609.1" r="3.3" fill="#000"/>
<circle cx="636.88" cy="1609.1" r="3.3" fill="#000"/>
<circle cx="651.37" cy="1609.1" r="3.3" fill="#000"/>
<circle cx="665.85" cy="1609.1" r="3.3" fill="#000"/>
<circle cx="680.34" cy="1609.1" r="3.3" fill="#000"/>
<circle cx="694.82" cy="1609.1" r="3.3" fill="#000"/>
<circle cx="709.31" cy="1609.1" r="3.3" fill="#000"/>
<circle cx="723.79" cy="1609.1" r="3.3" fill="#000"/>
<circle cx="738.27" cy="1609.1" r="3.3" fill="#000"/>
<circle cx="752.76" cy="1609.1" r="3.3" fill="#000"/>
<circle cx="767.24" cy="1609.1" r="3.3" fill="#000"/>
<circle cx="781.73" cy="1609.1" r="3.3" fill="#000"/>
<circle cx="796.21" cy="1609.1" r="3.3" fill="#000"/>
<circle cx="810.70" cy="1609.1" r="3.3" fill="#000"/>
<circle cx="825.18" cy="1609.1" r="3.3" fill="#000"/>
<circle cx="839.67" cy="1609.1" r="3.3" fill="#000"/>
<circle cx="854.15" cy="1609.1" r="3.3" fill="#000"/>
<circle cx="868.64" cy="1609.1" r="3.3" fill="#000"/>
<circle cx="883.12" cy="1609.1" r="3.3" fill="#000"/>
<circle cx="897.61" cy="1609.1" r="3.3" fill="#000"/>
<circle cx="912.10" cy="1609.1" r="3.3" fill="#000"/>
<circle cx="926.58" cy="1609.1" r="3.3" fill="#000"/>
<line x1="292.6" y1="1571.8" x2="292.6" y2="1663.5" stroke="#000" stroke-width="3.7"/>
<line x1="274.0" y1="1571.8" x2="311.20000000000005" y2="1571.8" stroke="#000" stroke-width="3.7" stroke-linecap="round"/>
<line x1="274.0" y1="1663.5" x2="311.20000000000005" y2="1663.5" stroke="#000" stroke-width="3.7" stroke-linecap="round"/>
<rect x="254.60000000000002" y="1614.3" width="76" height="6.8" fill="#000"/>
<line x1="406.3" y1="1591.5" x2="406.3" y2="1679.5" stroke="#000" stroke-width="3.7"/>
<line x1="387.7" y1="1591.5" x2="424.90000000000003" y2="1591.5" stroke="#000" stroke-width="3.7" stroke-linecap="round"/>
<line x1="387.7" y1="1679.5" x2="424.90000000000003" y2="1679.5" stroke="#000" stroke-width="3.7" stroke-linecap="round"/>
<rect x="368.3" y="1632.1" width="76" height="6.8" fill="#000"/>
<line x1="520.2" y1="1610.5" x2="520.2" y2="1680.1" stroke="#000" stroke-width="3.7"/>
<line x1="501.6" y1="1610.5" x2="538.8000000000001" y2="1610.5" stroke="#000" stroke-width="3.7" stroke-linecap="round"/>
<line x1="501.6" y1="1680.1" x2="538.8000000000001" y2="1680.1" stroke="#000" stroke-width="3.7" stroke-linecap="round"/>
<rect x="482.20000000000005" y="1641.8999999999999" width="76" height="6.8" fill="#000"/>
<line x1="633.6" y1="1620.3" x2="633.6" y2="1706.7" stroke="#000" stroke-width="3.7"/>
<line x1="615.0" y1="1620.3" x2="652.2" y2="1620.3" stroke="#000" stroke-width="3.7" stroke-linecap="round"/>
<line x1="615.0" y1="1706.7" x2="652.2" y2="1706.7" stroke="#000" stroke-width="3.7" stroke-linecap="round"/>
<rect x="595.6" y="1660.1" width="76" height="6.8" fill="#000"/>
<line x1="747.5" y1="1540.6" x2="747.5" y2="1645.6" stroke="#000" stroke-width="3.7"/>
<line x1="728.9" y1="1540.6" x2="766.1" y2="1540.6" stroke="#000" stroke-width="3.7" stroke-linecap="round"/>
<line x1="728.9" y1="1645.6" x2="766.1" y2="1645.6" stroke="#000" stroke-width="3.7" stroke-linecap="round"/>
<rect x="709.5" y="1589.6999999999998" width="76" height="6.8" fill="#000"/>
<line x1="861.2" y1="1622.5" x2="861.2" y2="1696.7" stroke="#000" stroke-width="3.7"/>
<line x1="842.6" y1="1622.5" x2="879.8000000000001" y2="1622.5" stroke="#000" stroke-width="3.7" stroke-linecap="round"/>
<line x1="842.6" y1="1696.7" x2="879.8000000000001" y2="1696.7" stroke="#000" stroke-width="3.7" stroke-linecap="round"/>
<rect x="823.2" y="1656.1" width="76" height="6.8" fill="#000"/>
<circle cx="292.6" cy="1356.6" r="8.2" fill="#d2d0bc"/>
<circle cx="292.6" cy="1429.9" r="8.2" fill="#d2d0bc"/>
<circle cx="292.6" cy="1490.5" r="8.2" fill="#d2d0bc"/>
<circle cx="278.1" cy="1525.5" r="8.2" fill="#d2d0bc"/>
<circle cx="307.2" cy="1537.7" r="8.2" fill="#d2d0bc"/>
<circle cx="307.2" cy="1553" r="8.2" fill="#d2d0bc"/>
<circle cx="278.1" cy="1564.7" r="8.2" fill="#d2d0bc"/>
<circle cx="292.6" cy="1579.5" r="8.2" fill="#d2d0bc"/>
<circle cx="278.1" cy="1594.3" r="8.2" fill="#d2d0bc"/>
<circle cx="307.2" cy="1595.9" r="8.2" fill="#d2d0bc"/>
<circle cx="307.2" cy="1611.7" r="8.2" fill="#d2d0bc"/>
<circle cx="278.1" cy="1623.3" r="8.2" fill="#d2d0bc"/>
<circle cx="307.2" cy="1632.4" r="8.2" fill="#d2d0bc"/>
<circle cx="278.1" cy="1644.7" r="8.2" fill="#d2d0bc"/>
<circle cx="278.1" cy="1661.8" r="8.2" fill="#d2d0bc"/>
<circle cx="307.2" cy="1671.5" r="8.2" fill="#d2d0bc"/>
<circle cx="278.1" cy="1677.1" r="8.2" fill="#d2d0bc"/>
<circle cx="307.2" cy="1702" r="8.2" fill="#d2d0bc"/>
<circle cx="278.1" cy="1711" r="8.2" fill="#d2d0bc"/>
<circle cx="307.2" cy="1746.5" r="8.2" fill="#d2d0bc"/>
<circle cx="278.1" cy="1754.9" r="8.2" fill="#d2d0bc"/>
<circle cx="307.2" cy="1762.9" r="8.2" fill="#d2d0bc"/>
<circle cx="278.1" cy="1774.7" r="8.2" fill="#d2d0bc"/>
<circle cx="406.3" cy="1388.1" r="11.4" fill="#d2d0bc"/>
<circle cx="406.3" cy="1483.5" r="11.4" fill="#d2d0bc"/>
<circle cx="406.3" cy="1519.5" r="11.4" fill="#d2d0bc"/>
<circle cx="406.3" cy="1557.9" r="11.4" fill="#d2d0bc"/>
<circle cx="390.8" cy="1574.3" r="11.4" fill="#d2d0bc"/>
<circle cx="421.3" cy="1576.6" r="11.4" fill="#d2d0bc"/>
<circle cx="437" cy="1593.9" r="11.4" fill="#d2d0bc"/>
<circle cx="406.3" cy="1599.9" r="11.4" fill="#d2d0bc"/>
<circle cx="375.6" cy="1604.7" r="11.4" fill="#d2d0bc"/>
<circle cx="437" cy="1613.1" r="11.4" fill="#d2d0bc"/>
<circle cx="406.3" cy="1622.1" r="11.4" fill="#d2d0bc"/>
<circle cx="375.6" cy="1627.4" r="11.4" fill="#d2d0bc"/>
<circle cx="437" cy="1633.8" r="11.4" fill="#d2d0bc"/>
<circle cx="437" cy="1652.8" r="11.4" fill="#d2d0bc"/>
<circle cx="375.6" cy="1661.3" r="11.4" fill="#d2d0bc"/>
<circle cx="406.3" cy="1671.2" r="11.4" fill="#d2d0bc"/>
<circle cx="375.6" cy="1677" r="11.4" fill="#d2d0bc"/>
<circle cx="406.3" cy="1688.3" r="11.4" fill="#d2d0bc"/>
<circle cx="406.3" cy="1704.7" r="11.4" fill="#d2d0bc"/>
<circle cx="406.3" cy="1740.7" r="11.4" fill="#d2d0bc"/>
<circle cx="437" cy="1776.9" r="11.4" fill="#d2d0bc"/>
<circle cx="406.3" cy="1788" r="11.4" fill="#d2d0bc"/>
<circle cx="406.3" cy="1854.9" r="11.4" fill="#d2d0bc"/>
<circle cx="747.4" cy="1366.2" r="8.2" fill="#c6d8d6"/>
<circle cx="737.1" cy="1404.6" r="8.2" fill="#c6d8d6"/>
<circle cx="757.5" cy="1415.1" r="8.2" fill="#c6d8d6"/>
<circle cx="747.4" cy="1465.7" r="8.2" fill="#c6d8d6"/>
<circle cx="747.4" cy="1480.3" r="8.2" fill="#c6d8d6"/>
<circle cx="716.8" cy="1529.1" r="8.2" fill="#c6d8d6"/>
<circle cx="737.1" cy="1527.4" r="8.2" fill="#c6d8d6"/>
<circle cx="757.5" cy="1533.5" r="8.2" fill="#c6d8d6"/>
<circle cx="777.9" cy="1537.5" r="8.2" fill="#c6d8d6"/>
<circle cx="737.1" cy="1546.6" r="8.2" fill="#c6d8d6"/>
<circle cx="757.5" cy="1583.8" r="8.2" fill="#c6d8d6"/>
<circle cx="737.1" cy="1597.8" r="8.2" fill="#c6d8d6"/>
<circle cx="757.5" cy="1610.6" r="8.2" fill="#c6d8d6"/>
<circle cx="737.1" cy="1624" r="8.2" fill="#c6d8d6"/>
<circle cx="716.8" cy="1671" r="8.2" fill="#c6d8d6"/>
<circle cx="737.1" cy="1663.1" r="8.2" fill="#c6d8d6"/>
<circle cx="777.9" cy="1665" r="8.2" fill="#c6d8d6"/>
<circle cx="757.5" cy="1684" r="8.2" fill="#c6d8d6"/>
<circle cx="737.1" cy="1690.6" r="8.2" fill="#c6d8d6"/>
<circle cx="757.5" cy="1704.6" r="8.2" fill="#c6d8d6"/>
<circle cx="737.1" cy="1715.1" r="8.2" fill="#c6d8d6"/>
<circle cx="747.4" cy="1775.6" r="8.2" fill="#c6d8d6"/>
<circle cx="747.4" cy="1850.1" r="8.2" fill="#c6d8d6"/>
<circle cx="860.5" cy="1446.9" r="7.55" fill="none" stroke="#c6d8d6" stroke-width="7.7"/>
<circle cx="860.5" cy="1472.7" r="7.55" fill="none" stroke="#c6d8d6" stroke-width="7.7"/>
<circle cx="860.5" cy="1548.5" r="7.55" fill="none" stroke="#c6d8d6" stroke-width="7.7"/>
<circle cx="879.2" cy="1599.6" r="7.55" fill="none" stroke="#c6d8d6" stroke-width="7.7"/>
<circle cx="854.2" cy="1604.9" r="7.55" fill="none" stroke="#c6d8d6" stroke-width="7.7"/>
<circle cx="867.8" cy="1607" r="7.55" fill="none" stroke="#c6d8d6" stroke-width="7.7"/>
<circle cx="867.8" cy="1626.5" r="7.55" fill="none" stroke="#c6d8d6" stroke-width="7.7"/>
<circle cx="854.2" cy="1631.1" r="7.55" fill="none" stroke="#c6d8d6" stroke-width="7.7"/>
<circle cx="854.5" cy="1658.8" r="7.55" fill="none" stroke="#c6d8d6" stroke-width="7.7"/>
<circle cx="867.3" cy="1668.6" r="7.55" fill="none" stroke="#c6d8d6" stroke-width="7.7"/>
<circle cx="891.9" cy="1670.3" r="7.55" fill="none" stroke="#c6d8d6" stroke-width="7.7"/>
<circle cx="841.9" cy="1676.8" r="7.55" fill="none" stroke="#c6d8d6" stroke-width="7.7"/>
<circle cx="854.6" cy="1677.3" r="7.55" fill="none" stroke="#c6d8d6" stroke-width="7.7"/>
<circle cx="879.6" cy="1677.7" r="7.55" fill="none" stroke="#c6d8d6" stroke-width="7.7"/>
<circle cx="867.3" cy="1683.2" r="7.55" fill="none" stroke="#c6d8d6" stroke-width="7.7"/>
<circle cx="854.6" cy="1695.6" r="7.55" fill="none" stroke="#c6d8d6" stroke-width="7.7"/>
<circle cx="867.3" cy="1705.3" r="7.55" fill="none" stroke="#c6d8d6" stroke-width="7.7"/>
<circle cx="854.5" cy="1713.6" r="7.55" fill="none" stroke="#c6d8d6" stroke-width="7.7"/>
<circle cx="854.3" cy="1734.7" r="7.55" fill="none" stroke="#c6d8d6" stroke-width="7.7"/>
<circle cx="867.2" cy="1748.4" r="7.55" fill="none" stroke="#c6d8d6" stroke-width="7.7"/>
<circle cx="854.3" cy="1750.3" r="7.55" fill="none" stroke="#c6d8d6" stroke-width="7.7"/>
<circle cx="867.2" cy="1780.4" r="7.55" fill="none" stroke="#c6d8d6" stroke-width="7.7"/>
<circle cx="854.3" cy="1789.3" r="7.55" fill="none" stroke="#c6d8d6" stroke-width="7.7"/>
<circle cx="292.6" cy="1356.6" r="7.3" fill="#0606c6"/>
<circle cx="292.6" cy="1429.9" r="7.3" fill="#0606c6"/>
<circle cx="292.6" cy="1490.5" r="7.3" fill="#0606c6"/>
<circle cx="278.1" cy="1525.5" r="7.3" fill="#0606c6"/>
<circle cx="307.2" cy="1537.7" r="7.3" fill="#0606c6"/>
<circle cx="307.2" cy="1553" r="7.3" fill="#0606c6"/>
<circle cx="278.1" cy="1564.7" r="7.3" fill="#0606c6"/>
<circle cx="292.6" cy="1579.5" r="7.3" fill="#0606c6"/>
<circle cx="278.1" cy="1594.3" r="7.3" fill="#0606c6"/>
<circle cx="307.2" cy="1595.9" r="7.3" fill="#0606c6"/>
<circle cx="307.2" cy="1611.7" r="7.3" fill="#0606c6"/>
<circle cx="278.1" cy="1623.3" r="7.3" fill="#0606c6"/>
<circle cx="307.2" cy="1632.4" r="7.3" fill="#0606c6"/>
<circle cx="278.1" cy="1644.7" r="7.3" fill="#0606c6"/>
<circle cx="278.1" cy="1661.8" r="7.3" fill="#0606c6"/>
<circle cx="307.2" cy="1671.5" r="7.3" fill="#0606c6"/>
<circle cx="278.1" cy="1677.1" r="7.3" fill="#0606c6"/>
<circle cx="307.2" cy="1702" r="7.3" fill="#0606c6"/>
<circle cx="278.1" cy="1711" r="7.3" fill="#0606c6"/>
<circle cx="307.2" cy="1746.5" r="7.3" fill="#0606c6"/>
<circle cx="278.1" cy="1754.9" r="7.3" fill="#0606c6"/>
<circle cx="307.2" cy="1762.9" r="7.3" fill="#0606c6"/>
<circle cx="278.1" cy="1774.7" r="7.3" fill="#0606c6"/>
<circle cx="406.3" cy="1388.1" r="2.9" fill="#b3b3b3"/>
<circle cx="406.3" cy="1388.1" r="7.2" fill="none" stroke="#0606c6" stroke-width="7.0"/>
<circle cx="406.3" cy="1483.5" r="2.9" fill="#b3b3b3"/>
<circle cx="406.3" cy="1483.5" r="7.2" fill="none" stroke="#0606c6" stroke-width="7.0"/>
<circle cx="406.3" cy="1519.5" r="2.9" fill="#b3b3b3"/>
<circle cx="406.3" cy="1519.5" r="7.2" fill="none" stroke="#0606c6" stroke-width="7.0"/>
<circle cx="406.3" cy="1557.9" r="2.9" fill="#b3b3b3"/>
<circle cx="406.3" cy="1557.9" r="7.2" fill="none" stroke="#0606c6" stroke-width="7.0"/>
<circle cx="390.8" cy="1574.3" r="2.9" fill="#b3b3b3"/>
<circle cx="390.8" cy="1574.3" r="7.2" fill="none" stroke="#0606c6" stroke-width="7.0"/>
<circle cx="421.3" cy="1576.6" r="2.9" fill="#b3b3b3"/>
<circle cx="421.3" cy="1576.6" r="7.2" fill="none" stroke="#0606c6" stroke-width="7.0"/>
<circle cx="437" cy="1593.9" r="2.9" fill="#b3b3b3"/>
<circle cx="437" cy="1593.9" r="7.2" fill="none" stroke="#0606c6" stroke-width="7.0"/>
<circle cx="406.3" cy="1599.9" r="2.9" fill="#b3b3b3"/>
<circle cx="406.3" cy="1599.9" r="7.2" fill="none" stroke="#0606c6" stroke-width="7.0"/>
<circle cx="375.6" cy="1604.7" r="2.9" fill="#b3b3b3"/>
<circle cx="375.6" cy="1604.7" r="7.2" fill="none" stroke="#0606c6" stroke-width="7.0"/>
<circle cx="437" cy="1613.1" r="2.9" fill="#b3b3b3"/>
<circle cx="437" cy="1613.1" r="7.2" fill="none" stroke="#0606c6" stroke-width="7.0"/>
<circle cx="406.3" cy="1622.1" r="2.9" fill="#b3b3b3"/>
<circle cx="406.3" cy="1622.1" r="7.2" fill="none" stroke="#0606c6" stroke-width="7.0"/>
<circle cx="375.6" cy="1627.4" r="2.9" fill="#b3b3b3"/>
<circle cx="375.6" cy="1627.4" r="7.2" fill="none" stroke="#0606c6" stroke-width="7.0"/>
<circle cx="437" cy="1633.8" r="2.9" fill="#b3b3b3"/>
<circle cx="437" cy="1633.8" r="7.2" fill="none" stroke="#0606c6" stroke-width="7.0"/>
<circle cx="437" cy="1652.8" r="2.9" fill="#b3b3b3"/>
<circle cx="437" cy="1652.8" r="7.2" fill="none" stroke="#0606c6" stroke-width="7.0"/>
<circle cx="375.6" cy="1661.3" r="2.9" fill="#b3b3b3"/>
<circle cx="375.6" cy="1661.3" r="7.2" fill="none" stroke="#0606c6" stroke-width="7.0"/>
<circle cx="406.3" cy="1671.2" r="2.9" fill="#b3b3b3"/>
<circle cx="406.3" cy="1671.2" r="7.2" fill="none" stroke="#0606c6" stroke-width="7.0"/>
<circle cx="375.6" cy="1677" r="2.9" fill="#b3b3b3"/>
<circle cx="375.6" cy="1677" r="7.2" fill="none" stroke="#0606c6" stroke-width="7.0"/>
<circle cx="406.3" cy="1688.3" r="2.9" fill="#b3b3b3"/>
<circle cx="406.3" cy="1688.3" r="7.2" fill="none" stroke="#0606c6" stroke-width="7.0"/>
<circle cx="406.3" cy="1704.7" r="2.9" fill="#b3b3b3"/>
<circle cx="406.3" cy="1704.7" r="7.2" fill="none" stroke="#0606c6" stroke-width="7.0"/>
<circle cx="406.3" cy="1740.7" r="2.9" fill="#b3b3b3"/>
<circle cx="406.3" cy="1740.7" r="7.2" fill="none" stroke="#0606c6" stroke-width="7.0"/>
<circle cx="437" cy="1776.9" r="2.9" fill="#b3b3b3"/>
<circle cx="437" cy="1776.9" r="7.2" fill="none" stroke="#0606c6" stroke-width="7.0"/>
<circle cx="406.3" cy="1788" r="2.9" fill="#b3b3b3"/>
<circle cx="406.3" cy="1788" r="7.2" fill="none" stroke="#0606c6" stroke-width="7.0"/>
<circle cx="406.3" cy="1854.9" r="2.9" fill="#b3b3b3"/>
<circle cx="406.3" cy="1854.9" r="7.2" fill="none" stroke="#0606c6" stroke-width="7.0"/>
<circle cx="519.9" cy="1464.2" r="7.3" fill="#22ff00"/>
<circle cx="509.8" cy="1548.8" r="7.3" fill="#22ff00"/>
<circle cx="530.2" cy="1550" r="7.3" fill="#22ff00"/>
<circle cx="489.2" cy="1570.4" r="7.3" fill="#22ff00"/>
<circle cx="550.8" cy="1569.8" r="7.3" fill="#22ff00"/>
<circle cx="509.8" cy="1583.3" r="7.3" fill="#22ff00"/>
<circle cx="530.2" cy="1581.3" r="7.3" fill="#22ff00"/>
<circle cx="530.2" cy="1603.1" r="7.3" fill="#22ff00"/>
<circle cx="509.8" cy="1607.7" r="7.3" fill="#22ff00"/>
<circle cx="509.8" cy="1629.5" r="7.3" fill="#22ff00"/>
<circle cx="489.2" cy="1636.8" r="7.3" fill="#22ff00"/>
<circle cx="550.8" cy="1630.6" r="7.3" fill="#22ff00"/>
<circle cx="530.2" cy="1640.3" r="7.3" fill="#22ff00"/>
<circle cx="519.9" cy="1669.6" r="7.3" fill="#22ff00"/>
<circle cx="509.8" cy="1696.8" r="7.3" fill="#22ff00"/>
<circle cx="509.8" cy="1716" r="7.3" fill="#22ff00"/>
<circle cx="530.2" cy="1713.9" r="7.3" fill="#22ff00"/>
<circle cx="550.8" cy="1710.6" r="7.3" fill="#22ff00"/>
<circle cx="530.2" cy="1729.4" r="7.3" fill="#22ff00"/>
<circle cx="489.2" cy="1741.2" r="7.3" fill="#22ff00"/>
<circle cx="550.8" cy="1743" r="7.3" fill="#22ff00"/>
<circle cx="489.2" cy="1755.8" r="7.3" fill="#22ff00"/>
<circle cx="530.2" cy="1750.2" r="7.3" fill="#22ff00"/>
<circle cx="618.1" cy="1463.9" r="7.2" fill="none" stroke="#22ff00" stroke-width="7.0"/>
<circle cx="648.7" cy="1466.2" r="7.2" fill="none" stroke="#22ff00" stroke-width="7.0"/>
<circle cx="618.1" cy="1562.2" r="7.2" fill="none" stroke="#22ff00" stroke-width="7.0"/>
<circle cx="648.7" cy="1559.7" r="7.2" fill="none" stroke="#22ff00" stroke-width="7.0"/>
<circle cx="618.1" cy="1584.4" r="7.2" fill="none" stroke="#22ff00" stroke-width="7.0"/>
<circle cx="648.7" cy="1586.9" r="7.2" fill="none" stroke="#22ff00" stroke-width="7.0"/>
<circle cx="602.9" cy="1619.3" r="7.2" fill="none" stroke="#22ff00" stroke-width="7.0"/>
<circle cx="602.9" cy="1639.8" r="7.2" fill="none" stroke="#22ff00" stroke-width="7.0"/>
<circle cx="602.9" cy="1658.5" r="7.2" fill="none" stroke="#22ff00" stroke-width="7.0"/>
<circle cx="602.9" cy="1673.2" r="7.2" fill="none" stroke="#22ff00" stroke-width="7.0"/>
<circle cx="633.6" cy="1630.7" r="7.2" fill="none" stroke="#22ff00" stroke-width="7.0"/>
<circle cx="633.6" cy="1657.5" r="7.2" fill="none" stroke="#22ff00" stroke-width="7.0"/>
<circle cx="633.6" cy="1675.9" r="7.2" fill="none" stroke="#22ff00" stroke-width="7.0"/>
<circle cx="664.4" cy="1648.2" r="7.2" fill="none" stroke="#22ff00" stroke-width="7.0"/>
<circle cx="664.4" cy="1670.9" r="7.2" fill="none" stroke="#22ff00" stroke-width="7.0"/>
<circle cx="633.6" cy="1721.3" r="7.2" fill="none" stroke="#22ff00" stroke-width="7.0"/>
<circle cx="664.4" cy="1717.1" r="7.2" fill="none" stroke="#22ff00" stroke-width="7.0"/>
<circle cx="602.9" cy="1782" r="7.2" fill="none" stroke="#22ff00" stroke-width="7.0"/>
<circle cx="633.6" cy="1777.3" r="7.2" fill="none" stroke="#22ff00" stroke-width="7.0"/>
<circle cx="664.4" cy="1765.1" r="7.2" fill="none" stroke="#22ff00" stroke-width="7.0"/>
<circle cx="664.4" cy="1784.3" r="7.2" fill="none" stroke="#22ff00" stroke-width="7.0"/>
<circle cx="648.7" cy="1806.8" r="7.2" fill="none" stroke="#22ff00" stroke-width="7.0"/>
<circle cx="618.1" cy="1818.1" r="7.2" fill="none" stroke="#22ff00" stroke-width="7.0"/>
<circle cx="747.4" cy="1366.2" r="7.3" fill="#bb000a"/>
<circle cx="737.1" cy="1404.6" r="7.3" fill="#bb000a"/>
<circle cx="757.5" cy="1415.1" r="7.3" fill="#bb000a"/>
<circle cx="747.4" cy="1465.7" r="7.3" fill="#bb000a"/>
<circle cx="747.4" cy="1480.3" r="7.3" fill="#bb000a"/>
<circle cx="716.8" cy="1529.1" r="7.3" fill="#bb000a"/>
<circle cx="737.1" cy="1527.4" r="7.3" fill="#bb000a"/>
<circle cx="757.5" cy="1533.5" r="7.3" fill="#bb000a"/>
<circle cx="777.9" cy="1537.5" r="7.3" fill="#bb000a"/>
<circle cx="737.1" cy="1546.6" r="7.3" fill="#bb000a"/>
<circle cx="757.5" cy="1583.8" r="7.3" fill="#bb000a"/>
<circle cx="737.1" cy="1597.8" r="7.3" fill="#bb000a"/>
<circle cx="757.5" cy="1610.6" r="7.3" fill="#bb000a"/>
<circle cx="737.1" cy="1624" r="7.3" fill="#bb000a"/>
<circle cx="716.8" cy="1671" r="7.3" fill="#bb000a"/>
<circle cx="737.1" cy="1663.1" r="7.3" fill="#bb000a"/>
<circle cx="777.9" cy="1665" r="7.3" fill="#bb000a"/>
<circle cx="757.5" cy="1684" r="7.3" fill="#bb000a"/>
<circle cx="737.1" cy="1690.6" r="7.3" fill="#bb000a"/>
<circle cx="757.5" cy="1704.6" r="7.3" fill="#bb000a"/>
<circle cx="737.1" cy="1715.1" r="7.3" fill="#bb000a"/>
<circle cx="747.4" cy="1775.6" r="7.3" fill="#bb000a"/>
<circle cx="747.4" cy="1850.1" r="7.3" fill="#bb000a"/>
<circle cx="860.5" cy="1446.9" r="7.2" fill="none" stroke="#bb000a" stroke-width="7.0"/>
<circle cx="860.5" cy="1472.7" r="7.2" fill="none" stroke="#bb000a" stroke-width="7.0"/>
<circle cx="860.5" cy="1548.5" r="7.2" fill="none" stroke="#bb000a" stroke-width="7.0"/>
<circle cx="879.2" cy="1599.6" r="7.2" fill="none" stroke="#bb000a" stroke-width="7.0"/>
<circle cx="854.2" cy="1604.9" r="7.2" fill="none" stroke="#bb000a" stroke-width="7.0"/>
<circle cx="867.8" cy="1607" r="7.2" fill="none" stroke="#bb000a" stroke-width="7.0"/>
<circle cx="867.8" cy="1626.5" r="7.2" fill="none" stroke="#bb000a" stroke-width="7.0"/>
<circle cx="854.2" cy="1631.1" r="7.2" fill="none" stroke="#bb000a" stroke-width="7.0"/>
<circle cx="854.5" cy="1658.8" r="7.2" fill="none" stroke="#bb000a" stroke-width="7.0"/>
<circle cx="867.3" cy="1668.6" r="7.2" fill="none" stroke="#bb000a" stroke-width="7.0"/>
<circle cx="891.9" cy="1670.3" r="7.2" fill="none" stroke="#bb000a" stroke-width="7.0"/>
<circle cx="841.9" cy="1676.8" r="7.2" fill="none" stroke="#bb000a" stroke-width="7.0"/>
<circle cx="854.6" cy="1677.3" r="7.2" fill="none" stroke="#bb000a" stroke-width="7.0"/>
<circle cx="879.6" cy="1677.7" r="7.2" fill="none" stroke="#bb000a" stroke-width="7.0"/>
<circle cx="867.3" cy="1683.2" r="7.2" fill="none" stroke="#bb000a" stroke-width="7.0"/>
<circle cx="854.6" cy="1695.6" r="7.2" fill="none" stroke="#bb000a" stroke-width="7.0"/>
<circle cx="867.3" cy="1705.3" r="7.2" fill="none" stroke="#bb000a" stroke-width="7.0"/>
<circle cx="854.5" cy="1713.6" r="7.2" fill="none" stroke="#bb000a" stroke-width="7.0"/>
<circle cx="854.3" cy="1734.7" r="7.2" fill="none" stroke="#bb000a" stroke-width="7.0"/>
<circle cx="867.2" cy="1748.4" r="7.2" fill="none" stroke="#bb000a" stroke-width="7.0"/>
<circle cx="854.3" cy="1750.3" r="7.2" fill="none" stroke="#bb000a" stroke-width="7.0"/>
<circle cx="867.2" cy="1780.4" r="7.2" fill="none" stroke="#bb000a" stroke-width="7.0"/>
<circle cx="854.3" cy="1789.3" r="7.2" fill="none" stroke="#bb000a" stroke-width="7.0"/>
<g transform="translate(415.5,50.3) rotate(0) scale(0.9895,0.9866)"><text x="0" y="0" font-size="62" text-anchor="start" fill="#1e1e1e" stroke="#1e1e1e" stroke-width="0.35" style="font-family:'Liberation Sans',sans-serif">Propointing</text></g>
<g transform="translate(116.0,134.5) rotate(0) scale(0.9736,0.9527)"><text x="0" y="0" font-size="58" text-anchor="start" fill="#000" stroke="#000" stroke-width="1.3" style="font-family:'Liberation Sans',sans-serif">60</text></g>
<g transform="translate(116.5,254.0) rotate(0) scale(0.9649,0.9527)"><text x="0" y="0" font-size="58" text-anchor="start" fill="#000" stroke="#000" stroke-width="1.3" style="font-family:'Liberation Sans',sans-serif">40</text></g>
<g transform="translate(116.0,374.5) rotate(0) scale(0.9537,0.9527)"><text x="0" y="0" font-size="58" text-anchor="start" fill="#000" stroke="#000" stroke-width="1.3" style="font-family:'Liberation Sans',sans-serif">20</text></g>
<g transform="translate(148.0,493.6) rotate(0) scale(0.9108,0.9383)"><text x="0" y="0" font-size="58" text-anchor="start" fill="#000" stroke="#000" stroke-width="1.3" style="font-family:'Liberation Sans',sans-serif">0</text></g>
<g transform="translate(98.5,613.9) rotate(0) scale(0.9428,0.9429)"><text x="0" y="0" font-size="58" text-anchor="start" fill="#000" stroke="#000" stroke-width="1.3" style="font-family:'Liberation Sans',sans-serif">-20</text></g>
<g transform="translate(98.5,733.6) rotate(0) scale(0.9552,0.9383)"><text x="0" y="0" font-size="58" text-anchor="start" fill="#000" stroke="#000" stroke-width="1.3" style="font-family:'Liberation Sans',sans-serif">-40</text></g>
<g transform="translate(98.5,854.9) rotate(0) scale(0.9428,0.9429)"><text x="0" y="0" font-size="58" text-anchor="start" fill="#000" stroke="#000" stroke-width="1.3" style="font-family:'Liberation Sans',sans-serif">-60</text></g>
<g transform="translate(245.0,158.3) rotate(0) scale(0.9919,1.0062)"><text x="0" y="0" font-size="54" text-anchor="start" fill="#d0d0d0" stroke="#d0d0d0" stroke-width="3.1" stroke-linejoin="round" style="font-family:'Liberation Sans',sans-serif">Control</text></g>
<g transform="translate(245.0,158.3) rotate(0) scale(0.9919,1.0062)"><text x="0" y="0" font-size="54" text-anchor="start" fill="#000" stroke="#000" stroke-width="0.9" style="font-family:'Liberation Sans',sans-serif">Control</text></g>
<g transform="translate(483.0,159.4) rotate(0) scale(0.988,1.015)"><text x="0" y="0" font-size="54" text-anchor="start" fill="#000" stroke="#000" stroke-width="0.9" style="font-family:'Liberation Sans',sans-serif">Passive</text></g>
<g transform="translate(738.5,159.5) rotate(0) scale(0.9903,1.025)"><text x="0" y="0" font-size="54" text-anchor="start" fill="#d0d0d0" stroke="#d0d0d0" stroke-width="3.1" stroke-linejoin="round" style="font-family:'Liberation Sans',sans-serif">Active</text></g>
<g transform="translate(738.5,159.5) rotate(0) scale(0.9903,1.025)"><text x="0" y="0" font-size="54" text-anchor="start" fill="#000" stroke="#000" stroke-width="0.9" style="font-family:'Liberation Sans',sans-serif">Active</text></g>
<g transform="translate(51.0,803.1) rotate(-90) scale(1.0022,1.0556)"><text x="0" y="0" font-size="58" text-anchor="start" fill="#000" stroke="#000" stroke-width="0.9" style="font-family:'Liberation Sans',sans-serif">RT Difference Score (ms)</text></g>
<g transform="translate(414.5,1177.2) rotate(0) scale(0.9856,0.9797)"><text x="0" y="0" font-size="62" text-anchor="start" fill="#1e1e1e" stroke="#1e1e1e" stroke-width="0.35" style="font-family:'Liberation Sans',sans-serif">Antipointing</text></g>
<g transform="translate(120.0,1267.5) rotate(0) scale(0.9736,0.9524)"><text x="0" y="0" font-size="58" text-anchor="start" fill="#000" stroke="#000" stroke-width="1.3" style="font-family:'Liberation Sans',sans-serif">60</text></g>
<g transform="translate(120.5,1387.0) rotate(0) scale(0.9649,0.9527)"><text x="0" y="0" font-size="58" text-anchor="start" fill="#000" stroke="#000" stroke-width="1.3" style="font-family:'Liberation Sans',sans-serif">40</text></g>
<g transform="translate(120.0,1507.0) rotate(0) scale(0.9537,0.9527)"><text x="0" y="0" font-size="58" text-anchor="start" fill="#000" stroke="#000" stroke-width="1.3" style="font-family:'Liberation Sans',sans-serif">20</text></g>
<g transform="translate(152.0,1626.6) rotate(0) scale(0.9108,0.9383)"><text x="0" y="0" font-size="58" text-anchor="start" fill="#000" stroke="#000" stroke-width="1.3" style="font-family:'Liberation Sans',sans-serif">0</text></g>
<g transform="translate(102.5,1746.9) rotate(0) scale(0.9428,0.9429)"><text x="0" y="0" font-size="58" text-anchor="start" fill="#000" stroke="#000" stroke-width="1.3" style="font-family:'Liberation Sans',sans-serif">-20</text></g>
<g transform="translate(102.5,1866.6) rotate(0) scale(0.9552,0.9383)"><text x="0" y="0" font-size="58" text-anchor="start" fill="#000" stroke="#000" stroke-width="1.3" style="font-family:'Liberation Sans',sans-serif">-40</text></g>
<g transform="translate(102.0,1987.8) rotate(0) scale(0.955,0.9335)"><text x="0" y="0" font-size="58" text-anchor="start" fill="#000" stroke="#000" stroke-width="1.3" style="font-family:'Liberation Sans',sans-serif">-60</text></g>
<g transform="translate(248.0,1293.4) rotate(0) scale(0.9857,1.015)"><text x="0" y="0" font-size="54" text-anchor="start" fill="#d0d0d0" stroke="#d0d0d0" stroke-width="3.1" stroke-linejoin="round" style="font-family:'Liberation Sans',sans-serif">Control</text></g>
<g transform="translate(248.0,1293.4) rotate(0) scale(0.9857,1.015)"><text x="0" y="0" font-size="54" text-anchor="start" fill="#000" stroke="#000" stroke-width="0.9" style="font-family:'Liberation Sans',sans-serif">Control</text></g>
<g transform="translate(482.0,1293.0) rotate(0) scale(0.988,1.0)"><text x="0" y="0" font-size="54" text-anchor="start" fill="#000" stroke="#000" stroke-width="0.9" style="font-family:'Liberation Sans',sans-serif">Passive</text></g>
<g transform="translate(742.0,1292.6) rotate(0) scale(0.9876,1.01)"><text x="0" y="0" font-size="54" text-anchor="start" fill="#d0d0d0" stroke="#d0d0d0" stroke-width="3.1" stroke-linejoin="round" style="font-family:'Liberation Sans',sans-serif">Active</text></g>
<g transform="translate(742.0,1292.6) rotate(0) scale(0.9876,1.01)"><text x="0" y="0" font-size="54" text-anchor="start" fill="#000" stroke="#000" stroke-width="0.9" style="font-family:'Liberation Sans',sans-serif">Active</text></g>
<g transform="translate(51.0,1935.0) rotate(-90) scale(1.0,1.0556)"><text x="0" y="0" font-size="58" text-anchor="start" fill="#000" stroke="#000" stroke-width="0.9" style="font-family:'Liberation Sans',sans-serif">RT Difference Score (ms)</text></g>
<g transform="translate(172.0,1032.7) rotate(-45) scale(1.0109,1.0109)"><text x="0" y="0" font-size="54" text-anchor="start" fill="#000" stroke="#000" stroke-width="0.9" style="font-family:'Liberation Sans',sans-serif">Simult.</text></g>
<g transform="translate(324.5,996.6) rotate(-45) scale(1.0212,1.0212)"><text x="0" y="0" font-size="54" text-anchor="start" fill="#000" stroke="#000" stroke-width="0.9" style="font-family:'Liberation Sans',sans-serif">Post-</text></g>
<g transform="translate(175.0,2169.2) rotate(-45) scale(1.026,1.026)"><text x="0" y="0" font-size="54" text-anchor="start" fill="#000" stroke="#000" stroke-width="0.9" style="font-family:'Liberation Sans',sans-serif">Simult.</text></g>
<g transform="translate(328.0,2131.1) rotate(-45) scale(1.0211,1.0211)"><text x="0" y="0" font-size="54" text-anchor="start" fill="#000" stroke="#000" stroke-width="0.9" style="font-family:'Liberation Sans',sans-serif">Post-</text></g>
<g transform="translate(399.0,1033.7) rotate(-45) scale(1.0146,1.0146)"><text x="0" y="0" font-size="54" text-anchor="start" fill="#000" stroke="#000" stroke-width="0.9" style="font-family:'Liberation Sans',sans-serif">Simult.</text></g>
<g transform="translate(551.5,995.6) rotate(-45) scale(1.0164,1.0164)"><text x="0" y="0" font-size="54" text-anchor="start" fill="#000" stroke="#000" stroke-width="0.9" style="font-family:'Liberation Sans',sans-serif">Post-</text></g>
<g transform="translate(403.0,2169.2) rotate(-45) scale(1.0254,1.0254)"><text x="0" y="0" font-size="54" text-anchor="start" fill="#000" stroke="#000" stroke-width="0.9" style="font-family:'Liberation Sans',sans-serif">Simult.</text></g>
<g transform="translate(555.0,2130.1) rotate(-45) scale(1.0158,1.0158)"><text x="0" y="0" font-size="54" text-anchor="start" fill="#000" stroke="#000" stroke-width="0.9" style="font-family:'Liberation Sans',sans-serif">Post-</text></g>
<g transform="translate(626.0,1032.7) rotate(-45) scale(1.0112,1.0112)"><text x="0" y="0" font-size="54" text-anchor="start" fill="#000" stroke="#000" stroke-width="0.9" style="font-family:'Liberation Sans',sans-serif">Simult.</text></g>
<g transform="translate(779.5,996.6) rotate(-45) scale(1.0265,1.0265)"><text x="0" y="0" font-size="54" text-anchor="start" fill="#000" stroke="#000" stroke-width="0.9" style="font-family:'Liberation Sans',sans-serif">Post-</text></g>
<g transform="translate(630.0,2169.2) rotate(-45) scale(1.0255,1.0255)"><text x="0" y="0" font-size="54" text-anchor="start" fill="#000" stroke="#000" stroke-width="0.9" style="font-family:'Liberation Sans',sans-serif">Simult.</text></g>
<g transform="translate(783.0,2131.1) rotate(-45) scale(1.021,1.021)"><text x="0" y="0" font-size="54" text-anchor="start" fill="#000" stroke="#000" stroke-width="0.9" style="font-family:'Liberation Sans',sans-serif">Post-</text></g>
</svg></body></html>
